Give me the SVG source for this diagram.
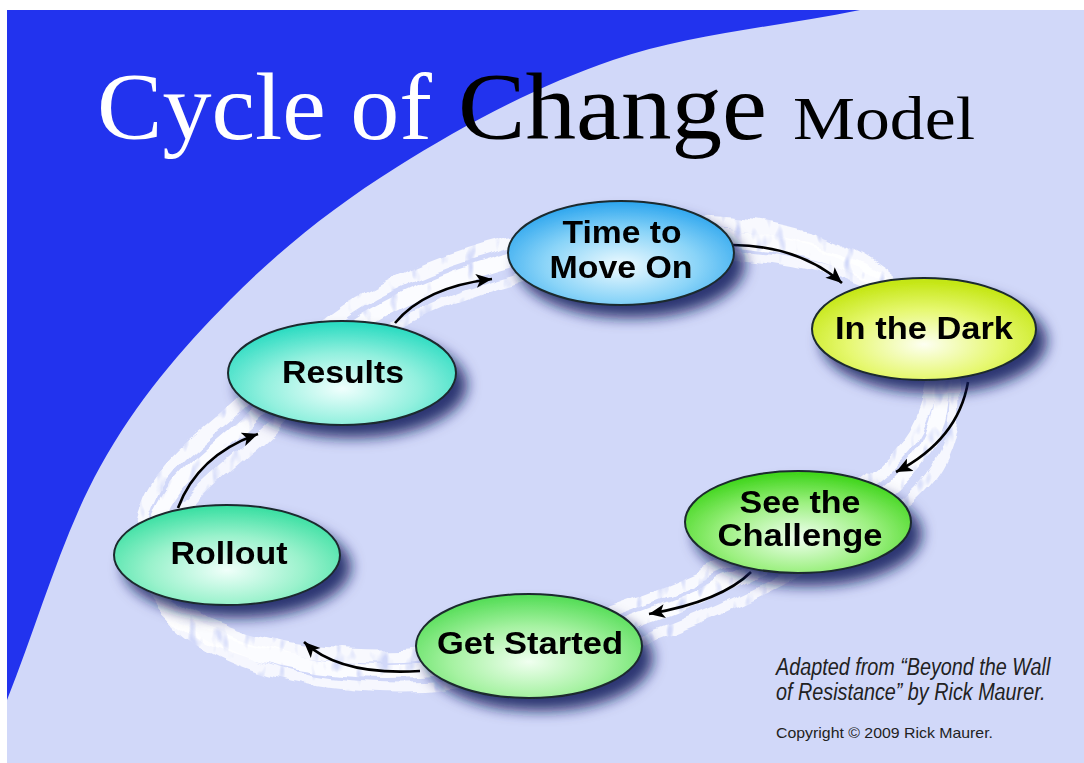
<svg xmlns="http://www.w3.org/2000/svg" width="1084" height="763" viewBox="0 0 1084 763">
<defs>
<style>
.lbl{font-family:"Liberation Sans",Arial,sans-serif;font-weight:bold;font-size:31px;fill:#000;text-anchor:middle}
.ttl{font-family:"Liberation Serif","Times New Roman",serif}
.note{font-family:"Liberation Sans",Arial,sans-serif;fill:#222}
.node{stroke:#1b2a2e;stroke-width:2}
.arrow{fill:none;stroke:#000;stroke-width:2.6}
.ring{fill:none;stroke:#fff;stroke-linecap:round;stroke-linejoin:round}
</style>
<marker id="ah" markerUnits="userSpaceOnUse" markerWidth="18" markerHeight="16" refX="16" refY="7" orient="auto">
<path d="M0,0 L16,7 L0,14 L4,7 Z" fill="#000"/>
</marker>
<filter id="shadow" x="-20%" y="-20%" width="150%" height="170%">
<feGaussianBlur in="SourceAlpha" stdDeviation="7"/>
<feOffset dx="10" dy="12" result="b"/>
<feFlood flood-color="#101a5a" flood-opacity="0.85"/>
<feComposite in2="b" operator="in" result="s"/>
<feMerge><feMergeNode in="s"/><feMergeNode in="SourceGraphic"/></feMerge>
</filter>
<filter id="rough" x="-10%" y="-10%" width="120%" height="120%">
<feTurbulence type="fractalNoise" baseFrequency="0.03" numOctaves="2" seed="4" result="n"/>
<feDisplacementMap in="SourceGraphic" in2="n" scale="14" xChannelSelector="R" yChannelSelector="G" result="d"/>
<feTurbulence type="fractalNoise" baseFrequency="0.09 0.04" numOctaves="2" seed="9" result="t"/>
<feColorMatrix in="t" type="matrix" values="0 0 0 0 1  0 0 0 0 1  0 0 0 0 1  4 0 0 0 -0.7" result="m"/>
<feComposite in="d" in2="m" operator="in"/>
</filter>
<radialGradient id="gTime" cx="50%" cy="62%" r="62%">
<stop offset="0" stop-color="#eefaff"/><stop offset="0.55" stop-color="#8ad4f8"/><stop offset="1" stop-color="#2aa4ee"/>
</radialGradient>
<radialGradient id="gDark" cx="50%" cy="65%" r="62%">
<stop offset="0" stop-color="#fdfff2"/><stop offset="0.55" stop-color="#e6f870"/><stop offset="1" stop-color="#c4e612"/>
</radialGradient>
<radialGradient id="gChal" cx="50%" cy="65%" r="62%">
<stop offset="0" stop-color="#f0fff0"/><stop offset="0.55" stop-color="#9cf080"/><stop offset="1" stop-color="#42d61e"/>
</radialGradient>
<radialGradient id="gGet" cx="50%" cy="65%" r="62%">
<stop offset="0" stop-color="#f0fff0"/><stop offset="0.55" stop-color="#a6f2a2"/><stop offset="1" stop-color="#58de5a"/>
</radialGradient>
<radialGradient id="gRoll" cx="50%" cy="65%" r="62%">
<stop offset="0" stop-color="#f0fffa"/><stop offset="0.55" stop-color="#9af2cc"/><stop offset="1" stop-color="#3ee0a4"/>
</radialGradient>
<radialGradient id="gRes" cx="50%" cy="65%" r="62%">
<stop offset="0" stop-color="#f0fffd"/><stop offset="0.55" stop-color="#92f0de"/><stop offset="1" stop-color="#2edcc2"/>
</radialGradient>
<path id="ringPath" d="M250,420 C284.2,388.8 325,345 370,318 C415,291 465,271.7 520,258 C575,244.3 645,234.8 700,236 C755,237.2 810.8,247.7 850,265 C889.2,282.3 922.5,309.2 935,340 C947.5,370.8 944.2,417.5 925,450 C905.8,482.5 867.5,506.7 820,535 C772.5,563.3 701.7,597.8 640,620 C578.3,642.2 510,661.3 450,668 C390,674.7 328.3,671.3 280,660 C231.7,648.7 179.2,625.8 160,600 C140.8,574.2 150,535 165,505 C180,475 215.8,451.2 250,420 Z"/>
</defs>

<g id="background">
<rect x="0" y="0" width="1084" height="763" fill="#ffffff"/>
<rect x="7" y="10" width="1077" height="753" fill="#d1d8f9"/>
<path d="M7,700 C38,622.3 62.8,533.7 100,467 C137.2,400.3 180.5,350 230,300 C279.5,250 333.2,207 397,167 C460.8,127 535.8,86.2 613,60 C690.2,33.8 777.7,26.7 860,10 L7,10 Z" fill="#2233ee"/>
</g>

<g id="title">
<text class="ttl" x="97" y="139" font-size="96" fill="#ffffff" textLength="335" lengthAdjust="spacingAndGlyphs">Cycle of</text>
<text class="ttl" x="458" y="139" font-size="96" fill="#000000" textLength="309" lengthAdjust="spacingAndGlyphs">Change</text>
<text class="ttl" x="793" y="139" font-size="61" fill="#000000" textLength="182" lengthAdjust="spacingAndGlyphs">Model</text>
</g>

<g id="ring" filter="url(#rough)">
<use href="#ringPath" class="ring" stroke-width="15" opacity="0.92"/>
<use href="#ringPath" class="ring" stroke-width="12" opacity="0.85" transform="translate(-11,-15)"/>
<use href="#ringPath" class="ring" stroke-width="10" opacity="0.8" transform="translate(12,17)"/>
</g>

<g id="connectors">
<path class="arrow" marker-end="url(#ah)" d="M395,323 Q425,287 492,279"/>
<path class="arrow" marker-end="url(#ah)" d="M733,245 Q800,246 842,283"/>
<path class="arrow" marker-end="url(#ah)" d="M968,382 Q958,440 896,472"/>
<path class="arrow" marker-end="url(#ah)" d="M751,572 Q722,601 649,614"/>
<path class="arrow" marker-end="url(#ah)" d="M420,671 Q340,676 304,642"/>
<path class="arrow" marker-end="url(#ah)" d="M178,508 Q198,455 258,434"/>
</g>

<g id="node-time" filter="url(#shadow)">
<ellipse class="node" cx="621" cy="253" rx="113" ry="52" fill="url(#gTime)"/>
<text class="lbl" x="622" y="243" textLength="119" lengthAdjust="spacingAndGlyphs">Time to</text>
<text class="lbl" x="621" y="278" textLength="143" lengthAdjust="spacingAndGlyphs">Move On</text>
</g>

<g id="node-dark" filter="url(#shadow)">
<ellipse class="node" cx="924" cy="329" rx="112" ry="51" fill="url(#gDark)"/>
<text class="lbl" x="924" y="339" textLength="178" lengthAdjust="spacingAndGlyphs">In the Dark</text>
</g>

<g id="node-challenge" filter="url(#shadow)">
<ellipse class="node" cx="798" cy="522" rx="113" ry="51" fill="url(#gChal)"/>
<text class="lbl" x="800" y="513" textLength="121" lengthAdjust="spacingAndGlyphs">See the</text>
<text class="lbl" x="800" y="546" textLength="165" lengthAdjust="spacingAndGlyphs">Challenge</text>
</g>

<g id="node-started" filter="url(#shadow)">
<ellipse class="node" cx="529" cy="646" rx="113" ry="52" fill="url(#gGet)"/>
<text class="lbl" x="530" y="654" textLength="186" lengthAdjust="spacingAndGlyphs">Get Started</text>
</g>

<g id="node-rollout" filter="url(#shadow)">
<ellipse class="node" cx="227" cy="555" rx="113" ry="50" fill="url(#gRoll)"/>
<text class="lbl" x="229" y="564" textLength="117" lengthAdjust="spacingAndGlyphs">Rollout</text>
</g>

<g id="node-results" filter="url(#shadow)">
<ellipse class="node" cx="342" cy="373" rx="114" ry="52" fill="url(#gRes)"/>
<text class="lbl" x="343" y="383" textLength="122" lengthAdjust="spacingAndGlyphs">Results</text>
</g>

<g id="credits">
<text class="note" transform="translate(776,675) scale(0.86,1)" x="0" y="0" font-size="23" font-style="italic">Adapted from “Beyond the Wall</text>
<text class="note" transform="translate(776,700) scale(0.86,1)" x="0" y="0" font-size="23" font-style="italic">of  Resistance” by Rick Maurer.</text>
<text class="note" x="776" y="738" font-size="15" textLength="217" lengthAdjust="spacingAndGlyphs">Copyright © 2009 Rick Maurer.</text>
</g>
</svg>
